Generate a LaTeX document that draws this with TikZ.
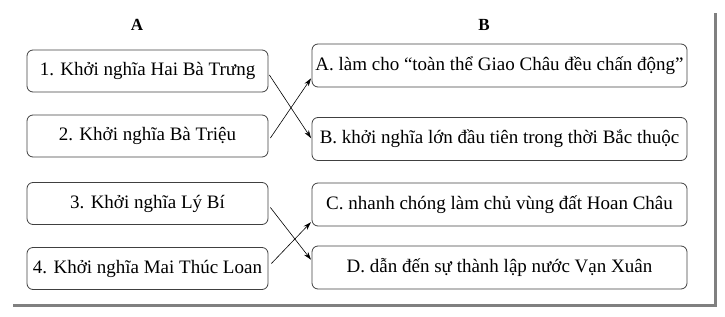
\documentclass[tikz,border=0pt]{standalone}
\usepackage{fontspec}
\setmainfont{Liberation Serif}
\usetikzlibrary{arrows.meta}

\begin{document}
\begin{tikzpicture}[x=1pt,y=-1pt,>=Stealth,
  colhead/.style={font=\bfseries\fontsize{17}{19}\selectfont},
  lbox/.style={draw=black!75,line width=0.8pt,rounded corners=6pt,minimum width=241pt,minimum height=42pt,inner sep=1pt,font=\fontsize{19}{22}\selectfont},
  rbox/.style={lbox,minimum width=375pt,minimum height=43pt},
  link/.style={->,line width=0.6pt,shorten >=1pt,-{Stealth[length=8pt,width=5pt]}}]
\useasboundingbox (0,0) rectangle (725,316);
% shadow of the frame
\draw[gray,line width=3pt] (13,305) -- (715,305) -- (715,13);
\node[colhead] (hA) at (137,25) {A};
\node[colhead] (hB) at (484,25) {B};
% column A
\node[lbox] (k1) at (147.5,71) {1. Khởi nghĩa Hai Bà Trưng};
\node[lbox] (k2) at (147.5,136) {2. Khởi nghĩa Bà Triệu};
\node[lbox] (k3) at (147.5,203.5) {3. Khởi nghĩa Lý Bí};
\node[lbox] (k4) at (147.5,268.5) {4. Khởi nghĩa Mai Thúc Loan};
% column B
\node[rbox] (rA) at (499.5,65.5) {A. làm cho “toàn thể Giao Châu đều chấn động”};
\node[rbox] (rB) at (499.5,139) {B. khởi nghĩa lớn đầu tiên trong thời Bắc thuộc};
\node[rbox] (rC) at (499.5,204.5) {C. nhanh chóng làm chủ vùng đất Hoan Châu};
\node[rbox] (rD) at (499.5,267.5) {D. dẫn đến sự thành lập nước Vạn Xuân};
% answers
\draw[link] ([xshift=1pt,yshift=-4pt]k1.east) -- (rB.west);
\draw[link] ([xshift=2pt,yshift=-2pt]k2.east) -- ([yshift=-12pt]rA.west);
\draw[link] ([xshift=2pt,yshift=-4pt]k3.east) -- ([yshift=7pt]rD.west);
\draw[link] ([xshift=3pt,yshift=5pt]k4.east) -- ([yshift=-17pt]rC.west);
\end{tikzpicture}
\end{document}
